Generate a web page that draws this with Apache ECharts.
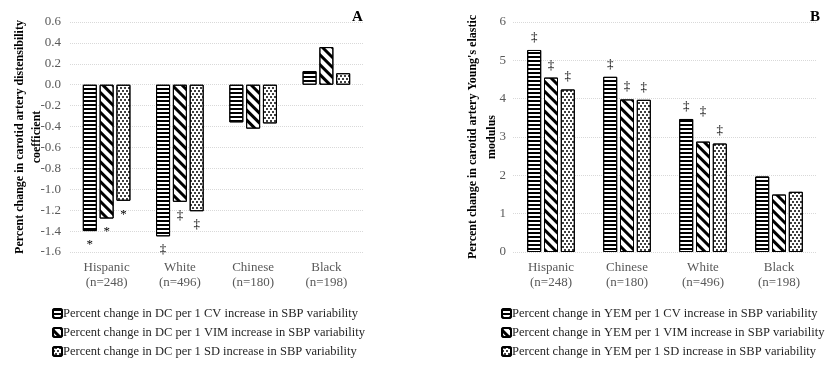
<!DOCTYPE html>
<html>
<head>
<meta charset="utf-8">
<script src="https://cdn.jsdelivr.net/npm/echarts@6/dist/echarts.min.js"></script>
<style>
  html, body { margin: 0; padding: 0; background: #fff; }
  #chart { width: 828px; height: 366px; }
</style>
</head>
<body>
<div id="chart"></div>
<script>
// 图A 数据
const dcCategories = ["Hispanic\n(n=248)", "White\n(n=496)", "Chinese\n(n=180)", "Black\n(n=198)"];
const dcCV = [-1.40, -1.45, -0.36, 0.13];
const dcVIM = [-1.28, -1.12, -0.42, 0.36];
const dcSD = [-1.11, -1.21, -0.37, 0.11];
const dcMarkCV = ["*", "‡", "", ""];
const dcMarkVIM = ["*", "‡", "", ""];
const dcMarkSD = ["*", "‡", "", ""];

// 图B 数据
const yemCategories = ["Hispanic\n(n=248)", "Chinese\n(n=180)", "White\n(n=496)", "Black\n(n=198)"];
const yemCV = [5.27, 4.57, 3.47, 1.97];
const yemVIM = [4.55, 3.98, 2.88, 1.50];
const yemSD = [4.24, 3.97, 2.83, 1.57];
const yemMarkCV = ["‡", "‡", "‡", ""];
const yemMarkVIM = ["‡", "‡", "‡", ""];
const yemMarkSD = ["‡", "‡", "‡", ""];

const dcNames = [
  "Percent change in DC per 1 CV increase in SBP variability",
  "Percent change in DC per 1 VIM increase in SBP variability",
  "Percent change in DC per 1 SD increase in SBP variability"
];
const yemNames = [
  "Percent change in YEM per 1 CV increase in SBP variability",
  "Percent change in YEM per 1 VIM increase in SBP variability",
  "Percent change in YEM per 1 SD increase in SBP variability"
];

const serif = "Liberation Serif";

// 三种填充图案
const decals = [
  { symbol: "rect", symbolSize: 1, color: "#000", dashArrayX: [1, 0], dashArrayY: [2, 2], rotation: 0 },
  { symbol: "rect", symbolSize: 1, color: "#000", dashArrayX: [1, 0], dashArrayY: [3, 4], rotation: Math.PI / 4 },
  { symbol: "circle", symbolSize: 1, color: "#000", dashArrayX: [[1.6, 1.6], [0, 1.6, 1.6, 0]], dashArrayY: [1.6, 0.6], rotation: 0 }
];

// 带标注的数据项
function withMarks(values, marks, pos, baseDist, extraDist) {
  return values.map((v, i) => {
    if (!marks[i]) return v;
    return {
      value: v,
      label: {
        show: true,
        formatter: marks[i],
        position: pos,
        distance: extraDist && extraDist[i] ? extraDist[i] : baseDist
      }
    };
  });
}

function makeSeries(names, arrays, marks, axisIndex, pos, baseDist, extra) {
  return names.map((n, k) => ({
    name: n,
    type: "bar",
    xAxisIndex: axisIndex,
    yAxisIndex: axisIndex,
    barWidth: 14,
    barGap: "20%",
    data: withMarks(arrays[k], marks[k], pos, baseDist, extra ? extra[k] : null),
    itemStyle: {
      color: "#fff",
      borderColor: "#000",
      borderWidth: 1,
      decal: decals[k]
    },
    label: {
      fontFamily: serif,
      fontSize: 13,
      color: "#000"
    },
    emphasis: { disabled: true }
  }));
}

const chart = echarts.init(document.getElementById("chart"));

const axisLabelStyle = { fontFamily: serif, fontSize: 13, color: "#595959" };
const splitLineStyle = { show: true, lineStyle: { color: "#d9d9d9", type: "dotted", width: 1 } };
const legendBase = {
  orient: "vertical",
  top: 302,
  itemWidth: 9,
  itemHeight: 9,
  itemGap: 6,
  textStyle: { fontFamily: serif, fontSize: 12.5, color: "#262626", padding: [0, 0, 0, -4] }
};

const option = {
  animation: false,
  title: [
    { text: "A", left: 347, top: 5, textStyle: { fontFamily: serif, fontSize: 15, fontWeight: "bold", color: "#000" } },
    { text: "B", left: 805, top: 5, textStyle: { fontFamily: serif, fontSize: 15, fontWeight: "bold", color: "#000" } }
  ],
  grid: [
    { left: 70, right: 465, top: 22, bottom: 114, outerBoundsMode: "none" },
    { left: 513, right: 11, top: 22, bottom: 114, outerBoundsMode: "none" }
  ],
  legend: [
    Object.assign({ left: 47, data: dcNames }, legendBase),
    Object.assign({ left: 496, data: yemNames }, legendBase)
  ],
  xAxis: [
    {
      type: "category", gridIndex: 0, data: dcCategories,
      axisLine: { show: false, onZero: false }, axisTick: { show: false },
      axisLabel: Object.assign({ margin: 8, lineHeight: 15, interval: 0 }, axisLabelStyle)
    },
    {
      type: "category", gridIndex: 1, data: yemCategories,
      axisLine: { show: false, onZero: false }, axisTick: { show: false },
      axisLabel: Object.assign({ margin: 8, lineHeight: 15, interval: 0 }, axisLabelStyle)
    }
  ],
  yAxis: [
    {
      type: "value", gridIndex: 0, min: -1.6, max: 0.6, interval: 0.2,
      axisLine: { show: false }, axisTick: { show: false },
      axisLabel: Object.assign({ margin: 9, formatter: v => v.toFixed(1) }, axisLabelStyle),
      splitLine: splitLineStyle,
      name: "Percent change in carotid artery distensibility\ncoefficient",
      nameLocation: "middle", nameGap: 25, nameRotate: 90, nameMoveOverlap: false,
      nameTextStyle: { fontFamily: serif, fontSize: 12, fontWeight: "bold", color: "#000", lineHeight: 17 }
    },
    {
      type: "value", gridIndex: 1, min: 0, max: 6, interval: 1,
      axisLine: { show: false }, axisTick: { show: false },
      axisLabel: Object.assign({ margin: 7 }, axisLabelStyle),
      splitLine: splitLineStyle,
      name: "Percent change in carotid artery Young's elastic\nmodulus",
      nameLocation: "middle", nameGap: 12, nameRotate: 90, nameMoveOverlap: false,
      nameTextStyle: { fontFamily: serif, fontSize: 12, fontWeight: "bold", color: "#000", lineHeight: 19 }
    }
  ],
  series: [].concat(
    makeSeries(dcNames, [dcCV, dcVIM, dcSD], [dcMarkCV, dcMarkVIM, dcMarkSD], 0, "bottom", 7),
    makeSeries(yemNames, [yemCV, yemVIM, yemSD], [yemMarkCV, yemMarkVIM, yemMarkSD], 1, "top", 6,
      [null, [0, 0, 24, 0], null])
  )
};

chart.setOption(option);
</script>
</body>
</html>
